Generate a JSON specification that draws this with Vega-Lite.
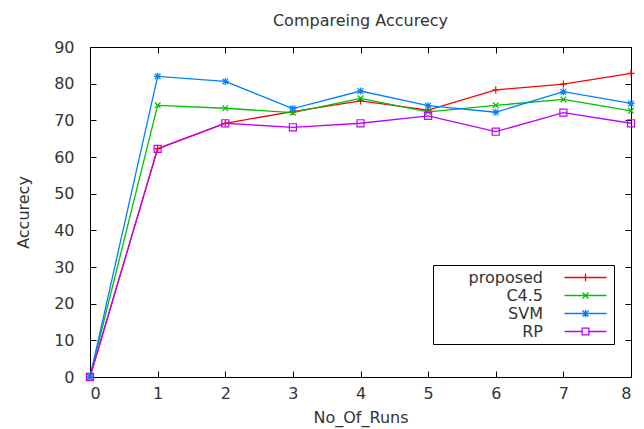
{
  "$schema": "https://vega.github.io/schema/vega-lite/v6.json",
  "width": 541,
  "height": 330,
  "autosize": {"type": "none"},
  "padding": {"left": 90, "top": 47, "right": 13, "bottom": 52},
  "background": "white",
  "title": {"text": "Compareing Accurecy", "font": "DejaVu Sans", "fontSize": 16, "fontWeight": "normal", "color": "#333333", "offset": 10, "anchor": "middle"},
  "config": {
    "view": {"stroke": "black", "strokeWidth": 1},
    "font": "DejaVu Sans",
    "axis": {"labelFont": "DejaVu Sans", "labelFontSize": 16, "labelColor": "#333333", "titleFont": "DejaVu Sans", "titleFontSize": 16, "titleFontWeight": "normal", "titleColor": "#333333", "domain": false, "tickColor": "black", "tickSize": -6, "grid": true, "gridColor": "#a0a0a0", "gridDash": [2, 3], "gridWidth": 1}
  },
  "data": {"values": [
    {"run": 0, "method": "proposed", "acc": 0},
    {"run": 1, "method": "proposed", "acc": 62.3},
    {"run": 2, "method": "proposed", "acc": 69.2},
    {"run": 3, "method": "proposed", "acc": 72.4},
    {"run": 4, "method": "proposed", "acc": 75.3},
    {"run": 5, "method": "proposed", "acc": 72.8},
    {"run": 6, "method": "proposed", "acc": 78.3},
    {"run": 7, "method": "proposed", "acc": 79.9},
    {"run": 8, "method": "proposed", "acc": 82.8},
    {"run": 0, "method": "C4.5", "acc": 0},
    {"run": 1, "method": "C4.5", "acc": 74.1},
    {"run": 2, "method": "C4.5", "acc": 73.3},
    {"run": 3, "method": "C4.5", "acc": 72.1},
    {"run": 4, "method": "C4.5", "acc": 76.0},
    {"run": 5, "method": "C4.5", "acc": 72.3},
    {"run": 6, "method": "C4.5", "acc": 74.1},
    {"run": 7, "method": "C4.5", "acc": 75.7},
    {"run": 8, "method": "C4.5", "acc": 72.6},
    {"run": 0, "method": "SVM", "acc": 0},
    {"run": 1, "method": "SVM", "acc": 82.0},
    {"run": 2, "method": "SVM", "acc": 80.6},
    {"run": 3, "method": "SVM", "acc": 73.2},
    {"run": 4, "method": "SVM", "acc": 78.0},
    {"run": 5, "method": "SVM", "acc": 74.0},
    {"run": 6, "method": "SVM", "acc": 72.2},
    {"run": 7, "method": "SVM", "acc": 77.8},
    {"run": 8, "method": "SVM", "acc": 74.6},
    {"run": 0, "method": "RP", "acc": 0},
    {"run": 1, "method": "RP", "acc": 62.2},
    {"run": 2, "method": "RP", "acc": 69.2},
    {"run": 3, "method": "RP", "acc": 68.1},
    {"run": 4, "method": "RP", "acc": 69.2},
    {"run": 5, "method": "RP", "acc": 71.2},
    {"run": 6, "method": "RP", "acc": 66.9},
    {"run": 7, "method": "RP", "acc": 72.1},
    {"run": 8, "method": "RP", "acc": 69.2}
  ]},
  "resolve": {"axis": {"x": "independent", "y": "independent"}},
  "layer": [
    {
      "mark": {"type": "point", "opacity": 0},
      "encoding": {
        "x": {"field": "run", "type": "quantitative", "scale": {"domain": [0, 8], "nice": false}, "axis": {"orient": "top", "values": [0, 1, 2, 3, 4, 5, 6, 7, 8], "labels": false, "grid": false, "title": null}},
        "y": {"field": "acc", "type": "quantitative", "scale": {"domain": [0, 90], "nice": false}, "axis": {"orient": "right", "values": [0, 10, 20, 30, 40, 50, 60, 70, 80, 90], "labels": false, "grid": false, "title": null}}
      }
    },
    {
      "encoding": {
        "x": {"field": "run", "type": "quantitative", "scale": {"domain": [0, 8], "nice": false}, "axis": {"values": [0, 1, 2, 3, 4, 5, 6, 7, 8], "title": "No_Of_Runs", "titlePadding": 8, "labelPadding": 14}},
        "y": {"field": "acc", "type": "quantitative", "scale": {"domain": [0, 90], "nice": false}, "axis": {"values": [0, 10, 20, 30, 40, 50, 60, 70, 80, 90], "title": "Accurecy", "titlePadding": 22, "labelPadding": 22}}
      },
      "resolve": {"scale": {"color": "independent"}, "legend": {"color": "independent"}},
      "layer": [
        {
          "mark": {"type": "line", "strokeWidth": 1.3},
          "encoding": {
            "color": {"field": "method", "type": "nominal",
              "scale": {"domain": ["proposed", "C4.5", "SVM", "RP"], "range": ["#ff0000", "#00c000", "#0080ff", "#c000ff"]},
              "legend": {"title": null, "orient": "none", "legendX": 343, "legendY": 218, "symbolType": "M-2.8,0H2.8", "symbolSize": 225, "symbolStrokeWidth": 1.3, "labelFontSize": 16, "labelFont": "DejaVu Sans", "labelColor": "#333333", "labelAlign": "right", "labelOffset": -51, "rowPadding": 1, "padding": 4, "fillColor": "white", "strokeColor": "black", "symbolOffset": 140,
                "encode": {"symbols": {"update": {"shape": {"signal": "datum.value === 'proposed' ? 'M-2.8,0H2.8M0,-0.5V0.5' : datum.value === 'C4.5' ? 'M-2.8,0H2.8M-0.4,-0.4L0.4,0.4M-0.4,0.4L0.4,-0.4' : datum.value === 'SVM' ? 'M-2.8,0H2.8M0,-0.5V0.5M-0.4,-0.4L0.4,0.4M-0.4,0.4L0.4,-0.4' : 'M-2.8,0H-0.45M0.45,0H2.8M-0.45,-0.45H0.45V0.45H-0.45Z'"}}}}
              }
            }
          }
        },
        {
          "mark": {"type": "point", "filled": false, "size": 50, "strokeWidth": 1.2, "opacity": 1},
          "encoding": {
            "color": {"field": "method", "type": "nominal",
              "scale": {"domain": ["proposed", "C4.5", "SVM", "RP"], "range": ["#ff0000", "#00c000", "#0080ff", "#c000ff"]},
              "legend": null},
            "shape": {"field": "method", "type": "nominal",
              "scale": {"domain": ["proposed", "C4.5", "SVM", "RP"], "range": ["M-1,0H1M0,-1V1", "M-0.8,-0.8L0.8,0.8M-0.8,0.8L0.8,-0.8", "M-1,0H1M0,-1V1M-0.8,-0.8L0.8,0.8M-0.8,0.8L0.8,-0.8", "square"]},
              "legend": null}
          }
        }
      ]
    }
  ]
}
